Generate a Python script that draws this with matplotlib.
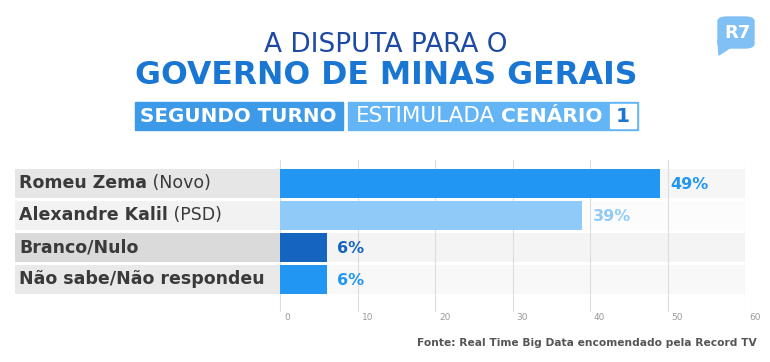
import matplotlib.pyplot as plt
from matplotlib.patches import FancyBboxPatch, Polygon, Rectangle

W, H = 770, 362

names = ["Romeu Zema", "Alexandre Kalil", "Branco/Nulo", "Não sabe/Não respondeu"]
parties = [" (Novo)", " (PSD)", "", ""]
values = [49, 39, 6, 6]
bar_colors = ["#2196f3", "#90caf9", "#1565c0", "#2196f3"]
label_bg = ["#e6e6e6", "#f2f2f2", "#dadada", "#e9e9e9"]
row_bg = ["#f6f6f6", "#fcfcfc", "#f4f4f4", "#f8f8f8"]
ticks = [0, 10, 20, 30, 40, 50, 60]

plt.rcParams['font.family'] = ['DejaVu Sans']

fig = plt.figure(figsize=(W / 100, H / 100), dpi=100)
fig.patch.set_facecolor("white")


def fx(px):
    return px / W


def fy(py):
    return 1 - py / H


# main axes: x from 15px to 745px, 0 at 280px
left_px, right_px, zero_px = 15, 745, 280
scale = (right_px - zero_px) / 60
xmin = -(zero_px - left_px) / scale
ax = fig.add_axes([fx(left_px), fy(312), fx(right_px - left_px), (312 - 160) / H])
row_px = 32
ax.set_xlim(xmin, 60)
top = (183.5 - 160) / row_px
span = (312 - 160) / row_px
ax.set_ylim(span - top, -top)
ax.axis("off")

ys = range(len(names))
bh = 29 / 32
ax.barh(ys, 60, height=bh, color=row_bg, zorder=0)
ax.barh(ys, -xmin, left=xmin, height=bh, color=label_bg, zorder=3)
for t in ticks:
    ax.axvline(t, color="#dddddd", lw=0.8, zorder=1)
ax.barh(ys, values, height=bh, color=bar_colors, zorder=2)

for i, (n, p, v, c) in enumerate(zip(names, parties, values, bar_colors)):
    tn = ax.text(xmin + 4 / scale, i, n, fontsize=12.5, fontweight="bold",
                 color="#3a3a3a", va="center", zorder=4)
    if p:
        ax.annotate(p, xy=(1, 0), xycoords=tn, va="bottom", fontsize=12.5,
                    color="#3a3a3a", zorder=4)
    ax.text(v + 11 / scale, i + 0.03, f"{v}%", fontsize=11.5, fontweight="bold",
            color=c, va="center", zorder=4)

tick_y = (317 - 160) / row_px - top
for t in ticks:
    ax.text(t + 4 / scale, tick_y, str(t), fontsize=6.5, color="#999999",
            va="center", ha="left", clip_on=False)

# titles
fig.text(fx(386), fy(45), "A DISPUTA PARA O", fontsize=19, color="#1e4aa5",
         ha="center", va="center")
fig.text(fx(386), fy(76), "GOVERNO DE MINAS GERAIS", fontsize=22.7,
         fontweight="heavy", color="#1976d2", ha="center", va="center")

# banner
fig.patches.append(Rectangle((fx(135), fy(130)), fx(343 - 135), (130 - 102) / H,
                             transform=fig.transFigure, color="#3d9ae8"))
fig.patches.append(Rectangle((fx(348), fy(130)), fx(638 - 348), (130 - 102) / H,
                             transform=fig.transFigure, color="#64b5f6"))
fig.patches.append(Rectangle((fx(610), fy(128)), fx(636 - 610), (128 - 104) / H,
                             transform=fig.transFigure, color="white"))
fig.text(fx(238), fy(116), "SEGUNDO TURNO", fontsize=14.3, fontweight="bold",
         color="white", ha="center", va="center")
fig.text(fx(356), fy(116), "ESTIMULADA", fontsize=15.5, color="white",
         ha="left", va="center")
fig.text(fx(603), fy(116), "CENÁRIO", fontsize=14.6, fontweight="bold",
         color="white", ha="right", va="center")
fig.text(fx(623), fy(116), "1", fontsize=14.5, fontweight="bold",
         color="#1976d2", ha="center", va="center")

# R7 logo
fig.patches.append(FancyBboxPatch((fx(718), fy(48)), fx(36), (48 - 17) / H,
                                  boxstyle="round,pad=0,rounding_size=0.012",
                                  transform=fig.transFigure, color="#80c0f5"))
fig.patches.append(Polygon([(fx(718), fy(40)), (fx(719), fy(55)), (fx(731), fy(47))],
                           closed=True, transform=fig.transFigure, color="#80c0f5"))
fig.text(fx(738), fy(33), "R7", fontsize=13, fontweight="bold", color="white",
         ha="center", va="center")

# source
fig.text(fx(757), fy(343), "Fonte: Real Time Big Data encomendado pela Record TV",
         fontsize=7.7, fontweight="bold", color="#555555", ha="right", va="center")

fig.savefig("out.png", dpi=100)
